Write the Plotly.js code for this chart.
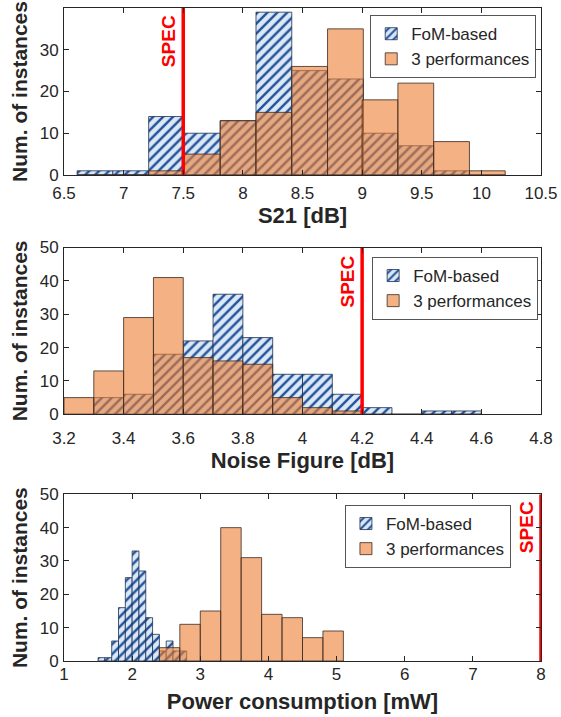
<!DOCTYPE html>
<html><head><meta charset="utf-8">
<script src="https://cdn.plot.ly/plotly-3.0.1.min.js"></script>
<style>html,body{margin:0;padding:0;background:#fff}#chart{width:561px;height:717px}</style>
</head><body><div id="chart"></div>
<script>
// ---- Panel 1: S21 [dB] ----
const s21BinStart = [6.61, 6.91, 7.21, 7.51, 7.81, 8.11, 8.41, 8.71, 9.00, 9.30, 9.60, 9.90];
const s21BinWidth = 0.3;
const s21FomCounts  = [1, 1, 14, 10, 13, 39, 25, 23, 10, 7, 1, 0];
const s21PerfCounts = [0, 0, 1, 5, 13, 15, 26, 35, 18, 22, 8, 1];
const s21Spec = 7.5;

// ---- Panel 2: Noise Figure [dB] ----
const nfBinStart = [3.2, 3.3, 3.4, 3.5, 3.6, 3.7, 3.8, 3.9, 4.0, 4.1, 4.2, 4.3, 4.4, 4.5];
const nfBinWidth = 0.1;
const nfFomCounts  = [0, 5, 6, 18, 22, 36, 23, 12, 12, 6, 2, 0, 1, 1];
const nfPerfCounts = [5, 13, 29, 41, 17, 16, 15, 5, 2, 1, 0, 0, 0, 0];
const nfSpec = 4.2;

// ---- Panel 3: Power consumption [mW] ----
const pwFomBinStart = [1.5, 1.6, 1.7, 1.8, 1.9, 2.0, 2.1, 2.2, 2.3, 2.4, 2.5, 2.6, 2.7];
const pwFomBinWidth = 0.1;
const pwFomCounts = [1, 1, 6, 16, 25, 33, 27, 13, 8, 3, 6, 3, 3];
const pwPerfBinStart = [2.4, 2.7, 3.0, 3.3, 3.6, 3.9, 4.2, 4.5, 4.8];
const pwPerfBinWidth = 0.3;
const pwPerfCounts = [4, 11, 15, 40, 31, 14, 13, 7, 9];
const pwSpec = 8;

const seriesNames = ['FoM-based', '3 performances'];
const xTitles = ['S21 [dB]', 'Noise Figure [dB]', 'Power consumption [mW]'];
const yTitle = 'Num. of instances';

const FONT = 'Arial, "Liberation Sans", Helvetica, sans-serif';
const DARK = '#262626';
const hatch = {shape: '/', fgcolor: '#23539b', bgcolor: '#dbe8f6', size: 7, solidity: 0.35};
const orange = 'rgba(237,125,49,0.6)';

function fomTrace(x, y, w, ax, leg, show) {
  return {type: 'bar', x: x, y: y, width: w, offset: 0, name: seriesNames[0],
    xaxis: 'x' + ax, yaxis: 'y' + ax, legend: leg, showlegend: show,
    marker: {color: '#dbe8f6', pattern: hatch, line: {color: '#1d2f4f', width: 0.8}}};
}
function perfTrace(x, y, w, ax, leg, show) {
  return {type: 'bar', x: x, y: y, width: w, offset: 0, name: seriesNames[1],
    xaxis: 'x' + ax, yaxis: 'y' + ax, legend: leg, showlegend: show,
    marker: {color: orange, line: {color: '#3a2a22', width: 0.8}}};
}
function specTrace(v, ymax, ax) {
  return {type: 'scatter', mode: 'lines', x: [v, v], y: [0, ymax], xaxis: 'x' + ax, yaxis: 'y' + ax,
    showlegend: false, hoverinfo: 'skip', line: {color: '#ff0000', width: 3.5}};
}
const axN = ['', '2', '3'];
const traces = [
  fomTrace(s21BinStart, s21FomCounts, s21BinWidth, axN[0], 'legend', true),
  perfTrace(s21BinStart, s21PerfCounts, s21BinWidth, axN[0], 'legend', true),
  specTrace(s21Spec, 40, axN[0]),
  fomTrace(nfBinStart, nfFomCounts, nfBinWidth, axN[1], 'legend2', true),
  perfTrace(nfBinStart, nfPerfCounts, nfBinWidth, axN[1], 'legend2', true),
  specTrace(nfSpec, 50, axN[1]),
  fomTrace(pwFomBinStart, pwFomCounts, pwFomBinWidth, axN[2], 'legend3', true),
  perfTrace(pwPerfBinStart, pwPerfCounts, pwPerfBinWidth, axN[2], 'legend3', true),
  specTrace(pwSpec, 50, axN[2])
];

function xax(range, dtick, title, anchor, standoff, tstand) {
  return {range: range, dtick: dtick, tick0: range[0], anchor: anchor,
    showline: true, linecolor: DARK, linewidth: 1, mirror: 'ticks',
    ticks: 'inside', ticklen: 5, tickcolor: DARK, showgrid: false, zeroline: false,
    tickfont: {size: 17, color: DARK, family: FONT}, ticklabelstandoff: standoff,
    automargin: false, fixedrange: true,
    title: {text: '<b>' + title + '</b>', font: {size: 22, color: DARK, family: FONT}, standoff: tstand}};
}
function yax(range, domain, anchor) {
  return {range: range, domain: domain, dtick: 10, anchor: anchor,
    showline: true, linecolor: DARK, linewidth: 1, mirror: 'ticks',
    ticks: 'inside', ticklen: 5, tickcolor: DARK, showgrid: false, zeroline: false,
    tickfont: {size: 17, color: DARK, family: FONT}, ticklabelstandoff: 1,
    automargin: false, fixedrange: true,
    title: {text: '<b>' + yTitle + '</b>', font: {size: 21, color: DARK, family: FONT}, standoff: 6}};
}
function legendCfg(x, y) {
  return {x: x, y: y, xanchor: 'left', yanchor: 'top', bgcolor: '#ffffff',
    bordercolor: '#555555', borderwidth: 1, font: {size: 17, color: DARK, family: FONT},
    tracegroupgap: 0, itemwidth: 30};
}
function specNote(v, y, ax) {
  return {text: '<b>SPEC</b>', x: v, y: y, xref: 'x' + ax, yref: 'y' + ax, showarrow: false,
    textangle: -90, xanchor: 'right', yanchor: 'middle', xshift: -2,
    font: {size: 19, color: '#ff0000', family: FONT}};
}

const layout = {
  width: 561, height: 717, margin: {l: 64, r: 20, t: 8, b: 56},
  paper_bgcolor: '#ffffff', plot_bgcolor: '#ffffff', barmode: 'overlay', bargap: 0,
  font: {family: FONT, color: DARK},
  xaxis: xax([6.5, 10.5], 0.5, xTitles[0], 'y', 3, 4),
  yaxis: yax([0, 40], [0.7443, 1], 'x'),
  xaxis2: xax([3.2, 4.8], 0.2, xTitles[1], 'y2', 8, 4),
  yaxis2: yax([0, 50], [0.3778, 0.6332], 'x2'),
  xaxis3: xax([1, 8], 1, xTitles[2], 'y3', -2, 10),
  yaxis3: yax([0, 50], [0, 0.2553], 'x3'),
  legend: legendCfg(0.642, 0.989),
  legend2: legendCfg(0.646, 0.6187),
  legend3: legendCfg(0.589, 0.2389),
  annotations: [specNote(s21Spec, 32, ''), specNote(nfSpec, 39.7, '2'), specNote(pwSpec, 40, '3')],
  showlegend: true
};
Plotly.newPlot('chart', traces, layout, {displayModeBar: false, staticPlot: true});
</script></body></html>
